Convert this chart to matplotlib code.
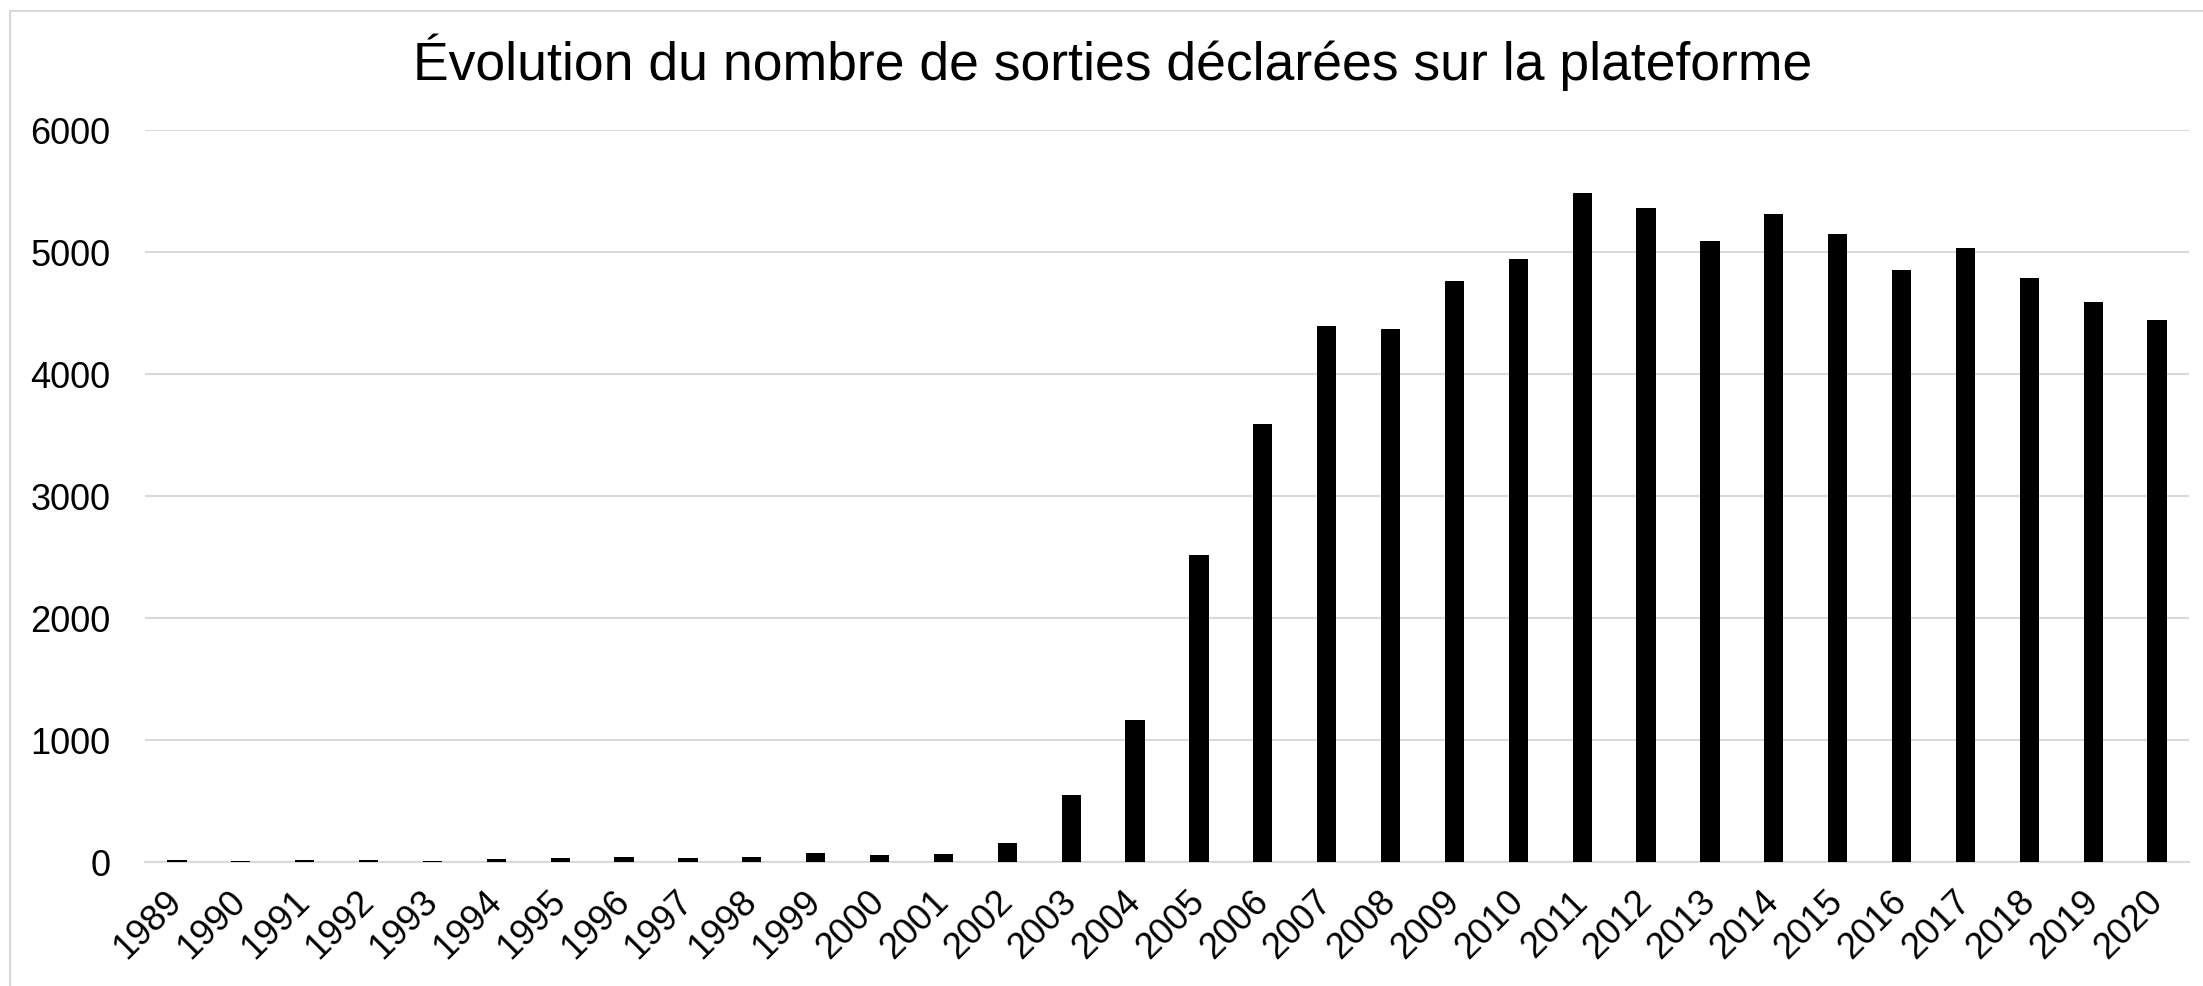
import matplotlib.pyplot as plt
import numpy as np
from matplotlib.patches import Rectangle

plt.rcParams['font.family'] = ['Liberation Sans', 'DejaVu Sans']

# data
years = [str(y) for y in range(1989, 2021)]
sorties = [14, 8, 14, 19, 8, 22, 36, 44, 30, 38, 71, 60, 69, 159, 549, 1160,
           2516, 3588, 4393, 4369, 4760, 4943, 5481, 5358, 5090, 5309, 5145,
           4850, 5033, 4784, 4588, 4443]

W, H = 2203, 986
fig = plt.figure(figsize=(W / 100, H / 100), dpi=100)
ax = fig.add_axes([145 / W, 1 - 862 / H, (2189 - 145) / W, (862 - 130) / H])

index = np.arange(len(years))
ax.bar(index, sorties, 0.3, color='black', zorder=3)

ax.set_xlim(-0.5, len(years) - 0.5)
ax.set_ylim(0, 6000)
ax.set_yticks(range(0, 6001, 1000))
ax.grid(axis='y', color='#d9d9d9', linewidth=1.5, zorder=0)
for s in ['left', 'right', 'top']:
    ax.spines[s].set_visible(False)
ax.spines['bottom'].set_color('#d9d9d9')
ax.spines['bottom'].set_linewidth(1.5)
ax.tick_params(axis='both', length=0, labelsize=26)
ax.tick_params(axis='y', pad=25)
ax.set_xticks(index)
ax.set_xticklabels(years, rotation=45, ha='right', va='center', rotation_mode='anchor')
ax.tick_params(axis='x', pad=25)

fig.text(0.505, 1 - 80 / H, 'Évolution du nombre de sorties déclarées sur la plateforme',
         ha='center', va='baseline', fontsize=38.5)

# light frame around the chart area
fig.patches.append(Rectangle((10 / W, -0.05), 1.2, 1 - 11 / H + 0.05,
                             transform=fig.transFigure, fill=False,
                             edgecolor='#d9d9d9', linewidth=1.5))

fig.savefig('out.png', dpi=100)
